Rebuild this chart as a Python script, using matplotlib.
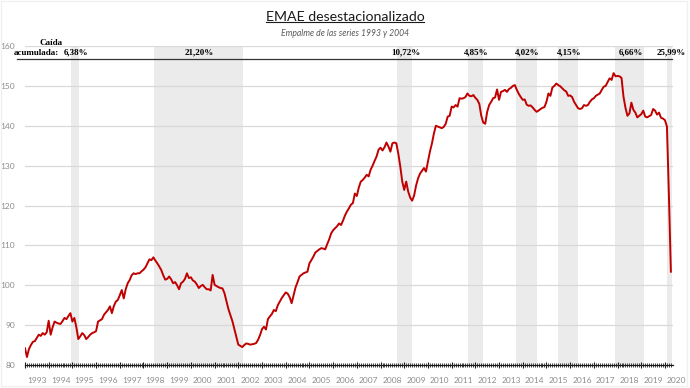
import numpy as np
import matplotlib
matplotlib.use("Agg")
import matplotlib.pyplot as plt
from matplotlib.lines import Line2D
from matplotlib.patches import Rectangle
import matplotlib.transforms as mtransforms

# EMAE desestacionalizado, monthly values (Jan 1993 - Apr 2020)
emae_1993 = [84.2, 82.0, 84.0, 85.0, 85.8, 86.0, 86.8, 87.6, 87.3, 88.0, 87.6, 88.2]
emae_1994 = [91.1, 87.6, 89.5, 90.9, 90.6, 90.4, 90.3, 91.0, 91.8, 91.5, 92.3, 93.0]
emae_1995 = [90.9, 91.8, 89.5, 86.5, 87.2, 88.0, 87.5, 86.5, 87.0, 87.6, 88.0, 88.2]
emae_1996 = [88.5, 90.9, 91.2, 91.5, 92.6, 93.2, 93.8, 94.7, 93.0, 94.8, 95.9, 96.3]
emae_1997 = [97.5, 98.8, 96.7, 99.0, 100.5, 101.3, 102.5, 103.0, 102.8, 103.0, 103.0, 103.5]
emae_1998 = [103.9, 104.5, 105.5, 106.5, 106.3, 107.0, 106.2, 105.5, 104.7, 103.8, 102.5, 101.4]
emae_1999 = [101.6, 102.2, 101.5, 100.5, 100.8, 100.0, 99.0, 100.5, 100.9, 101.6, 103.0, 101.8]
emae_2000 = [102.0, 101.2, 100.9, 100.2, 99.3, 99.8, 100.1, 99.5, 99.0, 99.0, 98.7, 102.6]
emae_2001 = [100.1, 99.8, 99.5, 99.3, 99.2, 98.0, 96.0, 94.0, 92.5, 91.0, 89.0, 87.0]
emae_2002 = [85.1, 84.8, 84.5, 85.0, 85.4, 85.3, 85.1, 85.2, 85.3, 85.5, 86.3, 87.5]
emae_2003 = [89.0, 89.6, 88.9, 91.5, 92.2, 92.8, 93.8, 93.5, 95.0, 95.9, 96.8, 97.5]
emae_2004 = [98.2, 97.9, 97.0, 95.5, 97.5, 99.5, 100.8, 102.2, 102.6, 103.0, 103.2, 103.4]
emae_2005 = [105.5, 106.3, 107.2, 108.2, 108.6, 109.0, 109.3, 109.2, 109.0, 110.3, 111.5, 113.0]
emae_2006 = [113.8, 114.3, 114.8, 115.5, 115.1, 116.2, 117.5, 118.5, 119.3, 120.2, 120.6, 123.0]
emae_2007 = [122.4, 124.5, 126.0, 126.4, 127.0, 127.7, 127.3, 129.0, 130.0, 131.2, 132.3, 134.0]
emae_2008 = [134.5, 133.8, 134.6, 135.8, 134.8, 133.5, 135.6, 135.8, 135.6, 133.0, 129.8, 126.0]
emae_2009 = [123.9, 126.0, 123.5, 122.0, 121.2, 122.5, 125.0, 126.8, 128.0, 128.7, 129.4, 128.5]
emae_2010 = [131.0, 133.5, 135.5, 138.0, 140.0, 139.8, 139.6, 139.4, 139.7, 140.5, 142.3, 142.5]
emae_2011 = [144.8, 144.6, 145.2, 144.8, 146.9, 146.8, 146.9, 147.2, 148.1, 147.5, 147.4, 147.7]
emae_2012 = [147.0, 146.5, 145.5, 142.5, 140.8, 140.5, 143.5, 145.2, 146.0, 146.9, 147.1, 149.1]
emae_2013 = [146.5, 148.5, 148.7, 149.0, 148.5, 149.2, 149.5, 150.0, 150.2, 149.0, 148.0, 147.2]
emae_2014 = [146.5, 146.6, 145.3, 145.0, 145.1, 144.6, 144.0, 143.5, 143.8, 144.2, 144.5, 144.7]
emae_2015 = [146.0, 148.1, 147.5, 149.6, 150.0, 150.6, 150.2, 149.9, 149.4, 148.9, 148.6, 147.5]
emae_2016 = [147.6, 147.2, 146.0, 145.2, 144.4, 144.2, 144.4, 145.2, 145.0, 145.2, 146.0, 146.6]
emae_2017 = [146.9, 147.5, 147.8, 148.1, 149.0, 149.8, 150.0, 151.0, 151.9, 151.5, 153.2, 152.4]
emae_2018 = [152.5, 152.4, 152.0, 147.3, 144.5, 142.5, 143.1, 145.8, 144.0, 143.3, 142.1, 142.5]
emae_2019 = [142.9, 143.8, 142.3, 142.1, 142.4, 142.7, 144.2, 143.8, 142.8, 143.3, 142.0, 141.8]
emae_2020 = [141.4, 139.8, 122.5, 103.4]

emae = (emae_1993 + emae_1994 + emae_1995 + emae_1996 + emae_1997 + emae_1998 + emae_1999
        + emae_2000 + emae_2001 + emae_2002 + emae_2003 + emae_2004 + emae_2005 + emae_2006
        + emae_2007 + emae_2008 + emae_2009 + emae_2010 + emae_2011 + emae_2012 + emae_2013
        + emae_2014 + emae_2015 + emae_2016 + emae_2017 + emae_2018 + emae_2019 + emae_2020)
fechas = 1993 + np.arange(len(emae)) / 12

# Recession periods (decimal years) and accumulated fall
caida_inicio = [1994.94, 1998.44, 2008.70, 2011.69, 2013.72, 2015.49, 2017.89, 2020.09]
caida_fin = [1995.28, 2002.20, 2009.33, 2012.32, 2014.60, 2016.34, 2019.11, 2020.30]
caida_pct = ["6,38%", "21,20%", "10,72%", "4,85%", "4,02%", "4,15%", "6,66%", "25,99%"]

years = list(range(1993, 2021))

fig = plt.figure(figsize=(6.9, 3.88), dpi=100)
ax = fig.add_axes([0.0362, 0.0593, 0.9392, 0.8221])

gris = "#8c8c8c"

for a, b in zip(caida_inicio, caida_fin):
    ax.axvspan(a, b, color="#ebebeb", lw=0, zorder=0)

ax.plot(fechas, emae, color="#c00000", lw=1.4, zorder=3)

ax.set_xlim(1993.0, 2020.34)
ax.set_ylim(80, 160)
ax.set_yticks(range(80, 161, 10))
ax.grid(axis="y", color="#d9d9d9", lw=0.9, zorder=1)
ax.set_axisbelow(True)

for s in ["top", "right", "left"]:
    ax.spines[s].set_visible(False)
ax.spines["bottom"].set_color("#1a1a1a")
ax.spines["bottom"].set_linewidth(0.9)

ax.set_xticks(years)
ax.set_xticks(fechas[fechas <= 2020.34], minor=True)
ax.tick_params(axis="x", which="major", direction="inout", length=5, width=0.8,
               color="#1a1a1a", labelbottom=False)
ax.tick_params(axis="x", which="minor", direction="inout", length=2.5, width=0.6,
               color="#1a1a1a")
ax.tick_params(axis="y", length=0, pad=7, labelsize=6, labelcolor=gris)
for lbl in ax.get_yticklabels():
    lbl.set_family("Lato")

xtrans = mtransforms.blended_transform_factory(ax.transData, ax.transAxes)
for y in years:
    ax.text(y + 0.5, -0.048, str(y), transform=xtrans, ha="center", va="center",
            fontsize=6, color=gris, family="Lato", clip_on=False)

# header line and accumulated falls
ax.plot([-0.0123, 0.998], [0.959, 0.959], transform=ax.transAxes, color="#333333",
        lw=0.9, clip_on=False, zorder=4)
for a, b, p in zip(caida_inicio, caida_fin, caida_pct):
    ax.text((a + b) / 2 + 0.05, 0.979, p, transform=xtrans, ha="center", va="center",
            fontsize=6.5, fontweight="bold", family="Liberation Serif", zorder=5)
ax.text(0.040, 1.010, "Caída", transform=ax.transAxes, ha="center", va="center",
        fontsize=6.5, fontweight="bold", family="Liberation Serif", zorder=5)
ax.text(0.052, 0.979, "acumulada:", transform=ax.transAxes, ha="right", va="center",
        fontsize=6.5, fontweight="bold", family="Liberation Serif", zorder=5)

# Title with underline
titulo = fig.text(0.5, 1 - 17 / 388, "EMAE desestacionalizado", ha="center", va="center",
                  fontsize=10.2, family="Lato", color="#1a1a1a")
fig.text(0.5, 1 - 34 / 388, "Empalme de las series 1993 y 2004", ha="center", va="center",
         fontsize=6.2, family="Lato", style="italic", color="#595959")

fig.canvas.draw()
bb = titulo.get_window_extent().transformed(fig.transFigure.inverted())
fig.add_artist(Line2D([bb.x0, bb.x1], [bb.y0 + 0.003, bb.y0 + 0.003],
                      transform=fig.transFigure, color="#1a1a1a", lw=0.8))

# faint frame around the chart
fig.add_artist(Rectangle((0.001, 0.006), 0.994, 0.992, transform=fig.transFigure,
                         fill=False, edgecolor="#f0f0f0", lw=1.0))

fig.savefig("out.png", dpi=100)
